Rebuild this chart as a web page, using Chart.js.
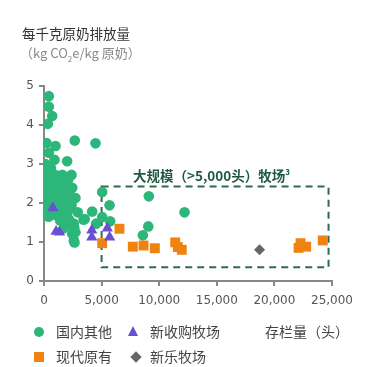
<!DOCTYPE html>
<html lang="zh">
<head>
<meta charset="UTF-8">
<title>每千克原奶排放量</title>
<script src="https://cdn.jsdelivr.net/npm/chart.js"></script>
<style>
  body { margin: 0; background: #fff; font-family: "Noto Sans CJK SC", sans-serif; }
  #wrap { position: relative; width: 365px; height: 367px; }
  canvas { position: absolute; left: 0; top: 0; }
  .txt { position: absolute; white-space: nowrap; line-height: 1; }
  .mk { position: absolute; }
</style>
</head>
<body>
<div id="wrap">
  <canvas id="chart" width="365" height="367"></canvas>
  <div class="txt" style="left:22px;top:27px;font-size:13.5px;color:#333;">每千克原奶排放量</div>
  <div class="txt" style="left:20px;top:46px;font-size:13px;color:#888;">（kg CO<sub style="font-size:8px;">2</sub>e/kg 原奶）</div>
  <div class="txt" style="left:133px;top:168px;font-size:13.5px;font-weight:bold;color:#1f5a3e;">大规模（&gt;5,000头）牧场<sup style="font-size:8px;">3</sup></div>
  <div class="txt" style="left:265px;top:324px;font-size:14px;color:#444;">存栏量（头）</div>

  <div class="mk" style="left:34px;top:327px;width:10px;height:10px;border-radius:50%;background:#2db679;"></div>
  <div class="txt" style="left:56px;top:324px;font-size:14px;color:#444;">国内其他</div>
  <div class="mk" style="left:128px;top:326px;width:0;height:0;border-left:5px solid transparent;border-right:5px solid transparent;border-bottom:10px solid #6a4fd3;"></div>
  <div class="txt" style="left:150px;top:324px;font-size:14px;color:#444;">新收购牧场</div>
  <div class="mk" style="left:34px;top:352px;width:10px;height:10px;background:#f0820f;"></div>
  <div class="txt" style="left:56px;top:349px;font-size:14px;color:#444;">现代原有</div>
  <div class="mk" style="left:132px;top:353px;width:8px;height:8px;background:#666;transform:rotate(45deg);"></div>
  <div class="txt" style="left:150px;top:349px;font-size:14px;color:#444;">新乐牧场</div>
</div>
<script>
// 国内其他
const otherX = [420, 420, 710, 330, 2670, 4470, 220, 1000, 420, 910, 2010, 130,
  250, 600, 150, 400, 800, 1200, 1600, 2390, 300, 700, 1100, 1780, 2100,
  200, 550, 950, 1400, 1900, 2450, 350, 750, 1250, 1650, 2200, 100, 500, 900,
  1500, 2730, 2000, 250, 650, 1100, 1800, 2400, 400, 800, 1300, 2100, 2930,
  200, 600, 1000, 1600, 2150, 2590, 2730, 2590, 3430, 3540, 4180, 4530, 400,
  1400, 1900, 2620, 2200, 2450, 2650, 1700, 5050, 5690, 5050, 5740, 9100,
  12200, 9050, 8580];
const otherY = [4.74, 4.47, 4.23, 4.03, 3.60, 3.53, 3.54, 3.46, 3.29, 3.11, 3.07, 3.00,
  2.95, 2.90, 2.80, 2.78, 2.75, 2.70, 2.72, 2.72, 2.65, 2.62, 2.60, 2.62, 2.60,
  2.50, 2.50, 2.48, 2.50, 2.45, 2.39, 2.40, 2.35, 2.35, 2.30, 2.30, 2.30, 2.25, 2.20,
  2.15, 2.13, 2.10, 2.10, 2.05, 2.00, 1.95, 1.95, 1.95, 1.85, 1.85, 1.80, 1.76,
  1.75, 1.70, 1.70, 1.65, 1.59, 1.47, 1.25, 1.04, 1.57, 1.59, 1.78, 1.47, 1.65,
  1.55, 1.50, 1.38, 1.45, 1.21, 0.99, 1.35, 2.28, 1.94, 1.64, 1.53, 2.17,
  1.76, 1.40, 1.17];
// 新收购牧场
const acquiredX = [770, 1050, 1350, 4150, 4150, 5500, 5700];
const acquiredY = [1.87, 1.27, 1.25, 1.30, 1.12, 1.35, 1.12];
// 现代原有
const modernX = [5050, 6550, 7710, 8640, 9620, 11390, 11620, 11960, 22270, 22100, 22760, 24200];
const modernY = [0.97, 1.34, 0.88, 0.91, 0.84, 0.99, 0.87, 0.80, 0.97, 0.85, 0.88, 1.04];
// 新乐牧场
const xinleX = [18710];
const xinleY = [0.80];

const xTicks = [0, 5000, 10000, 15000, 20000, 25000];
const yTicks = [0, 1, 2, 3, 4, 5];
// 大规模牧场框 (数据单位)
const boxX = [5000, 24700];
const boxY = [0.35, 2.42];

function pts(xs, ys) {
  return xs.map((x, i) => ({ x: x, y: ys[i] }));
}

const boxPlugin = {
  id: 'box',
  beforeDatasetsDraw(chart) {
    const { ctx, scales: { x, y } } = chart;
    const l = x.getPixelForValue(boxX[0]), r = x.getPixelForValue(boxX[1]);
    const t = y.getPixelForValue(boxY[1]), b = y.getPixelForValue(boxY[0]);
    ctx.save();
    ctx.strokeStyle = '#2e6b57';
    ctx.lineWidth = 2;
    ctx.setLineDash([7, 5]);
    ctx.strokeRect(l, t, r - l, b - t);
    ctx.restore();
  }
};

const axisStyle = {
  grid: { drawOnChartArea: false, drawTicks: true, tickLength: 5, color: '#888', lineWidth: 2 },
  border: { display: true, color: '#888', width: 2 }
};

new Chart(document.getElementById('chart').getContext('2d'), {
  type: 'scatter',
  data: {
    datasets: [
      { label: '新收购牧场', data: pts(acquiredX, acquiredY), pointStyle: 'triangle',
        pointRadius: 6.5, backgroundColor: '#6a4fd3', borderWidth: 0 },
      { label: '现代原有', data: pts(modernX, modernY), pointStyle: 'rect',
        pointRadius: 7, backgroundColor: '#f0820f', borderWidth: 0 },
      { label: '新乐牧场', data: pts(xinleX, xinleY), pointStyle: 'rectRot',
        pointRadius: 5.5, backgroundColor: '#666', borderWidth: 0 },
      { label: '国内其他', data: pts(otherX, otherY), pointStyle: 'circle',
        pointRadius: 5.3, backgroundColor: '#2db679', borderWidth: 0 }
    ]
  },
  options: {
    responsive: false,
    animation: false,
    devicePixelRatio: 1,
    layout: { padding: { left: 0, top: 86, right: 33, bottom: 0 } },
    plugins: { legend: { display: false }, tooltip: { enabled: false } },
    scales: {
      x: Object.assign({
        type: 'linear', min: 0, max: 25000,
        afterFit: s => { s.height = 86; },
        afterBuildTicks: s => { s.ticks = xTicks.map(v => ({ value: v })); },
        ticks: { color: '#555', padding: 8, maxRotation: 0,
          font: { family: 'DejaVu Sans', size: 12 },
          callback: v => v.toLocaleString('en-US') }
      }, axisStyle),
      y: Object.assign({
        min: 0, max: 5,
        afterFit: s => { s.width = 44; },
        afterBuildTicks: s => { s.ticks = yTicks.map(v => ({ value: v })); },
        ticks: { color: '#555', padding: 5,
          font: { family: 'DejaVu Sans', size: 12 } }
      }, axisStyle)
    }
  },
  plugins: [boxPlugin]
});
</script>
</body>
</html>
